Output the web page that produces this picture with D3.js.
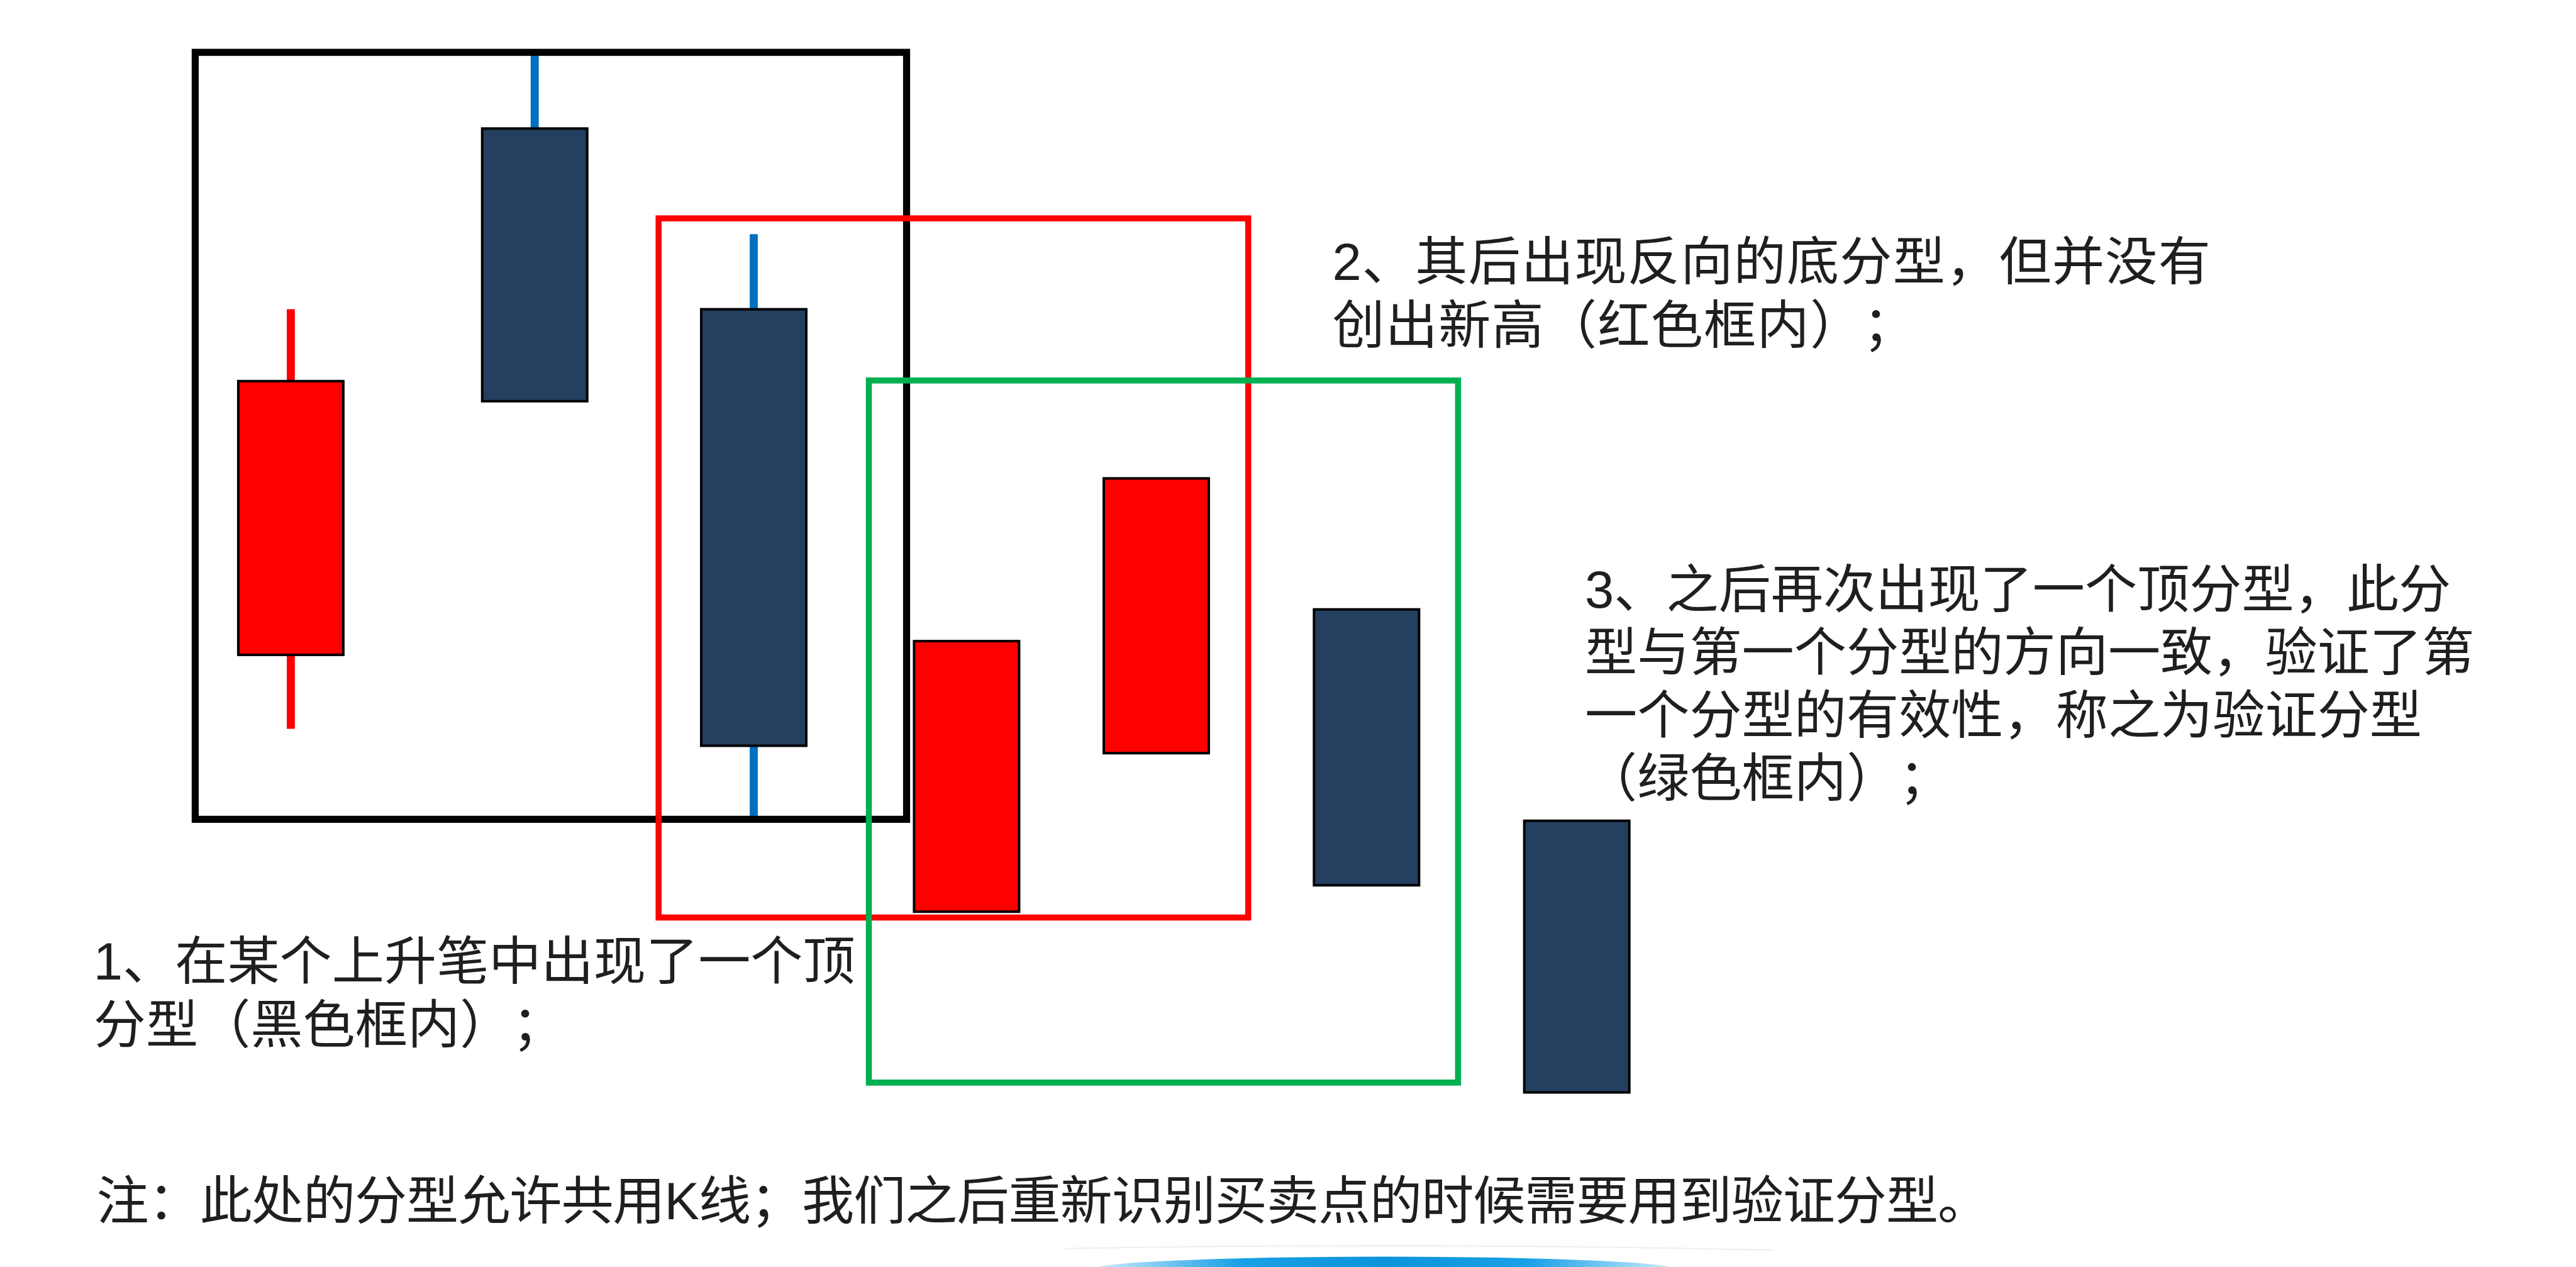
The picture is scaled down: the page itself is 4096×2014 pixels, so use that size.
<!DOCTYPE html>
<html><head><meta charset="utf-8">
<script src="https://cdn.jsdelivr.net/npm/d3@7"></script>
<style>html,body{margin:0;padding:0;background:#fff;overflow:hidden} text{text-spacing-trim:space-all;}</style>
</head><body><svg id="chart" width="4096" height="2014"></svg>
<script>
// ---- data (candles, price units 0..100) ----
const candleTime = [1.0, 2.138, 3.160, 4.153, 5.038, 6.019, 7.0];
const openVals   = [42.8, 92.6, 75.5, 18.5, 33.5, 47.1, 27.1];
const closeVals  = [68.7, 66.8, 34.2, 44.1, 59.5, 21.0, 1.4];
const highVals   = [75.5, 99.8, 82.6, 44.1, 59.5, 47.1, 27.1];
const lowVals    = [35.8, 66.8, 27.5, 18.5, 33.5, 21.0, 1.4];

// annotation frames (time / price extents)
const frameNames  = ["black", "red", "green"];
const frameT0     = [0.554, 2.716, 3.697];
const frameT1     = [3.873, 5.467, 6.446];
const frameTop    = [99.81, 84.10, 68.76];
const frameBottom = [27.24, 17.95, 2.33];

// texts
const note1Lines = ["1、在某个上升笔中出现了一个顶", "分型（黑色框内）；"];
const note2Lines = ["2、其后出现反向的底分型，但并没有", "创出新高（红色框内）；"];
const note3Lines = ["3、之后再次出现了一个顶分型，此分", "型与第一个分型的方向一致，验证了第", "一个分型的有效性，称之为验证分型", "（绿色框内）；"];
const footLines  = ["注：此处的分型允许共用K线；我们之后重新识别买卖点的时候需要用到验证分型。"];

// ---- layout ----
const S = 0.8;                 // reference -> window scale
const W = 4096, H = 2014;
const svg = d3.select("#chart");
svg.append("rect").attr("width", W).attr("height", H).attr("fill", "#ffffff");

const x = d3.scaleLinear().domain([1, 7]).range([578 * S, 3134 * S]);
const y = d3.scaleLinear().domain([0, 100]).range([2200 * S, 100 * S]);

const candles = candleTime.map((t, i) => ({
  t, open: openVals[i], close: closeVals[i], high: highVals[i], low: lowVals[i],
  up: closeVals[i] >= openVals[i]
}));

const halfBody = 0.245;
const upFill = "#FF0000", downFill = "#243F60";
const upWick = "#FF0000", downWick = "#0070C0";

const gC = svg.append("g").attr("class", "candles");
// wicks
gC.selectAll("g.wick").data(candles).join("g").attr("class", "wick").each(function(d) {
    const g = d3.select(this);
    const top = Math.max(d.open, d.close), bot = Math.min(d.open, d.close);
    const col = d.up ? upWick : downWick;
    if (d.high > top) g.append("line").attr("x1", x(d.t)).attr("x2", x(d.t))
      .attr("y1", y(d.high)).attr("y2", y(top)).attr("stroke", col).attr("stroke-width", 16 * S);
    if (d.low < bot) g.append("line").attr("x1", x(d.t)).attr("x2", x(d.t))
      .attr("y1", y(bot)).attr("y2", y(d.low)).attr("stroke", col).attr("stroke-width", 16 * S);
  });
// bodies
gC.selectAll("rect.body").data(candles).join("rect").attr("class", "body")
  .attr("x", d => x(d.t - halfBody))
  .attr("width", d => x(d.t + halfBody) - x(d.t - halfBody))
  .attr("y", d => y(Math.max(d.open, d.close)))
  .attr("height", d => y(Math.min(d.open, d.close)) - y(Math.max(d.open, d.close)))
  .attr("fill", d => d.up ? upFill : downFill)
  .attr("stroke", "#000").attr("stroke-width", 5 * S);

// frames
const frameColor = {black: "#000000", red: "#FF0000", green: "#00B050"};
const frameWidth = {black: 14, red: 12, green: 12};
const frames = frameNames.map((n, i) => ({n, t0: frameT0[i], t1: frameT1[i], top: frameTop[i], bot: frameBottom[i]}));
svg.append("g").selectAll("rect").data(frames).join("rect")
  .attr("x", d => x(d.t0)).attr("y", d => y(d.top))
  .attr("width", d => x(d.t1) - x(d.t0)).attr("height", d => y(d.bot) - y(d.top))
  .attr("fill", "none").attr("stroke", d => frameColor[d.n]).attr("stroke-width", d => frameWidth[d.n] * S);

// texts
const fontSize = 104 * S;
function block(lines, x0, y0, pitch, ls) {
  lines.forEach((s, i) => svg.append("text")
    .attr("font-family", "'Liberation Sans','Noto Sans CJK SC',sans-serif")
    .attr("font-size", fontSize).attr("fill", "#1f1f1f")
    .style("text-spacing-trim", "space-all")
    .attr("letter-spacing", ls || 0)
    .attr("x", x0 * S).attr("y", (y0 + i * pitch) * S).text(s));
}
block(note1Lines, 186, 1946, 126);
block(note2Lines, 2648, 556, 126, 1.2);
block(note3Lines, 3150, 1208, 125);
block(footLines, 192, 2422, 126, -1.1);

// bottom decoration
const defs = svg.append("defs");
const lg = defs.append("linearGradient").attr("id", "swoosh").attr("x1", "0%").attr("x2", "100%");
lg.append("stop").attr("offset", "0%").attr("stop-color", "#cfeefc");
lg.append("stop").attr("offset", "25%").attr("stop-color", "#1aa0e6");
lg.append("stop").attr("offset", "50%").attr("stop-color", "#0b94dc");
lg.append("stop").attr("offset", "75%").attr("stop-color", "#1aa0e6");
lg.append("stop").attr("offset", "100%").attr("stop-color", "#cfeefc");
svg.append("path")
  .attr("d", `M${2117*S},${2481*S} Q${2800*S},${2468*S} ${3526*S},${2484*S}`)
  .attr("fill", "none").attr("stroke", "#eeeeee").attr("stroke-width", 2);
svg.append("ellipse").attr("cx", 2751 * S).attr("cy", 2522 * S)
  .attr("rx", 580 * S).attr("ry", 25 * S).attr("fill", "url(#swoosh)");
</script></body></html>
